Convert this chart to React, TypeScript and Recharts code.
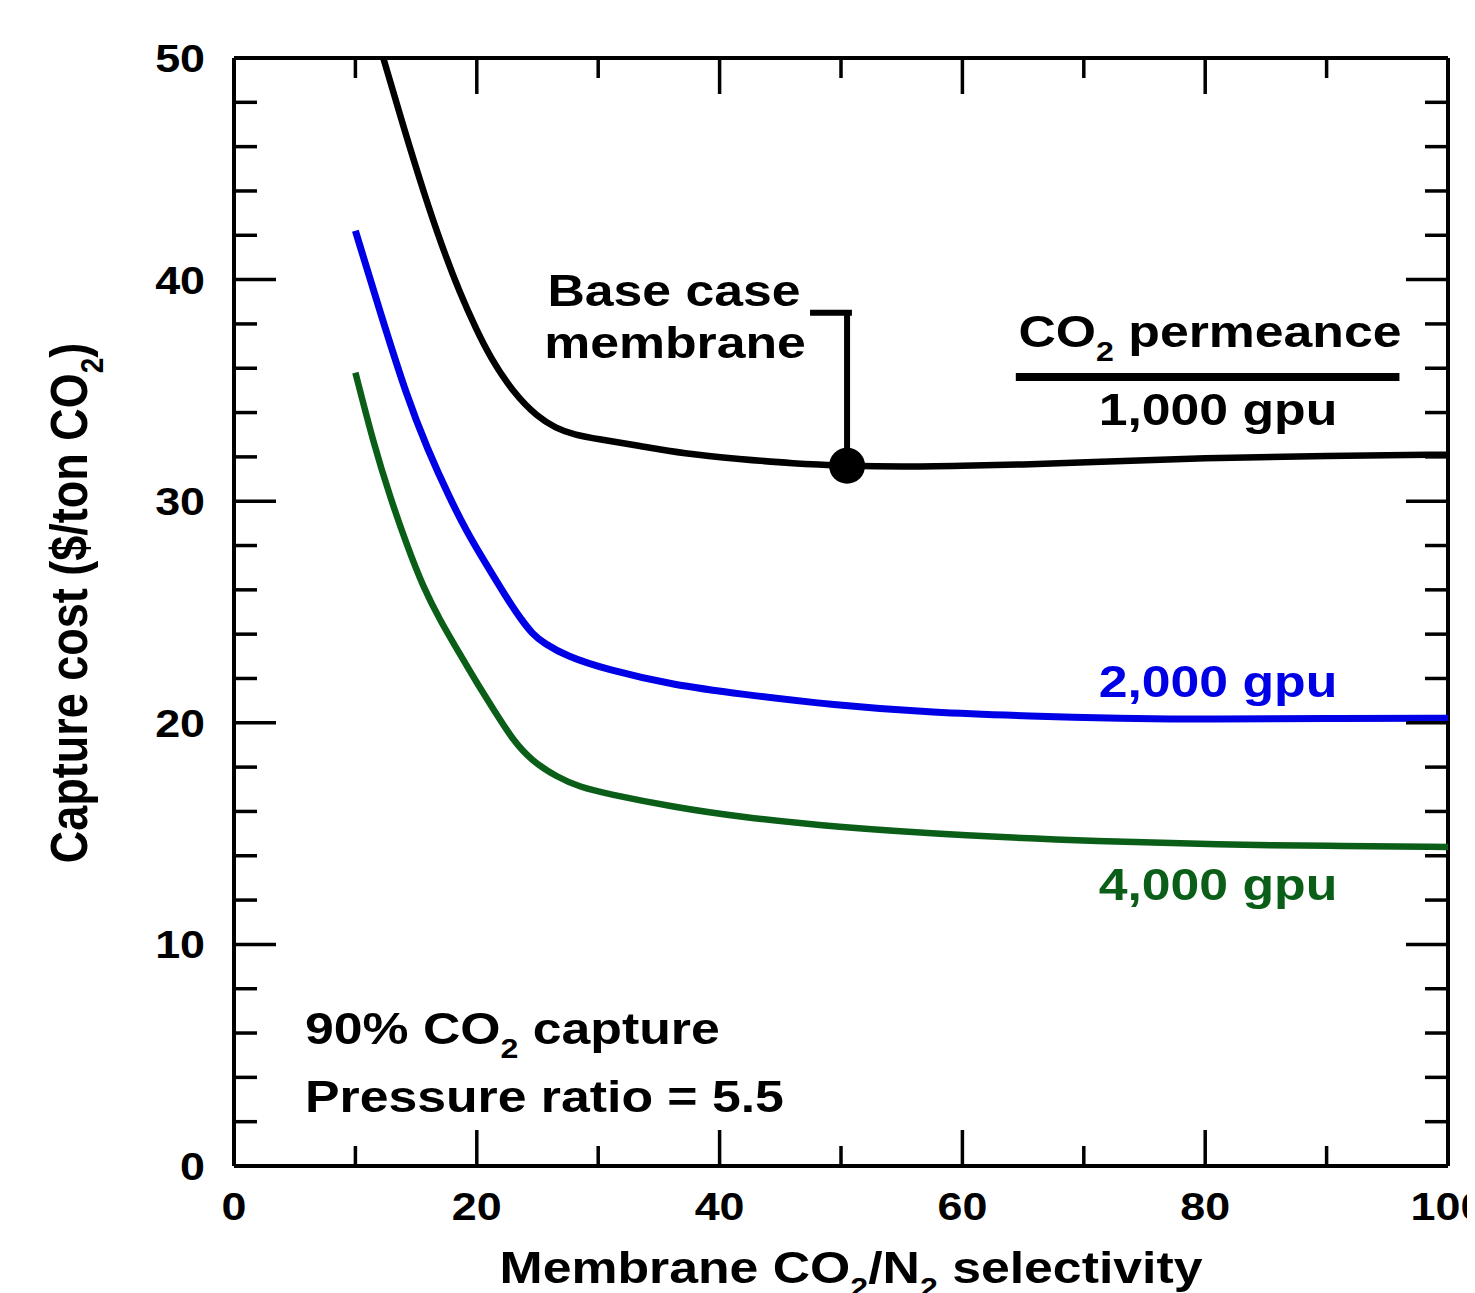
import React from 'react';
import { LineChart, Line, XAxis, YAxis, ReferenceDot, ReferenceLine } from 'recharts';

// ---- data ----
const sel1000 = [12.3, 13.9, 15.7, 17.2, 18.6, 20.0, 21.1, 23, 25, 26.5, 28, 30, 33.4, 37, 41.7, 46, 50.5, 55, 60, 65, 70, 80, 90, 100];
const cost1000 = [50, 47.0, 43.8, 41.4, 39.4, 37.7, 36.5, 34.9, 33.8, 33.3, 33.0, 32.8, 32.5, 32.15, 31.9, 31.7, 31.6, 31.55, 31.6, 31.65, 31.75, 31.95, 32.05, 32.1];

const sel2000 = [10, 12, 14.25, 15.9, 17.8, 19.2, 20.5, 22.5, 23.6, 24.6, 25.5, 27.4, 30.7, 36.2, 41.7, 49.3, 57.6, 65.8, 72.7, 81, 90, 100];
const cost2000 = [42.2, 38.6, 34.7, 32.4, 30.1, 28.6, 27.4, 25.6, 24.7, 24.0, 23.6, 23.0, 22.4, 21.7, 21.3, 20.8, 20.45, 20.3, 20.2, 20.15, 20.2, 20.2];

const sel4000 = [10, 11.5, 12.85, 14.25, 15.6, 17.0, 18.5, 20, 21.5, 23.0, 24.5, 26.6, 28.5, 30.7, 36.2, 41.7, 49.3, 60.4, 71.3, 81.2, 90, 100];
const cost4000 = [35.8, 32.6, 30.2, 28.0, 26.1, 24.6, 23.2, 21.8, 20.5, 19.2, 18.3, 17.55, 17.1, 16.8, 16.2, 15.75, 15.3, 14.9, 14.65, 14.5, 14.45, 14.4];

const xTicks = [0, 10, 20, 30, 40, 50, 60, 70, 80, 90, 100];
const yTicks = [0, 2, 4, 6, 8, 10, 12, 14, 16, 18, 20, 22, 24, 26, 28, 30, 32, 34, 36, 38, 40, 42, 44, 46, 48, 50];
const xDomain = [0, 100];
const yDomain = [0, 50];

const baseCase = { x: 50.5, y: 31.6 };
const bracketTopY = 38.5;
const bracketLeftX = 47.45;
const bracketRightX = 50.9;
const underline = { x1: 64.4, x2: 96.0, y: 35.6 };

const toData = (xs: number[], ys: number[]) => xs.map((x, i) => ({ x, y: ys[i] }));
const data1000 = toData(sel1000, cost1000);
const data2000 = toData(sel2000, cost2000);
const data4000 = toData(sel4000, cost4000);

// ---- layout ----
const W = 1467;
const H = 1285;
const MARGIN = { top: 50, right: 27, bottom: 27, left: 106 };
const YAXIS_W = 120;
const XAXIS_H = 100;
const PLOT_TOP = MARGIN.top;
const PLOT_RIGHT = W - MARGIN.right;

// ---- styling ----
const FONT = '"Liberation Sans", Arial, Helvetica, sans-serif';
const SX = 1.15;
const BLACK = '#000000';
const BLUE = '#0000e6';
const GREEN = '#0b5e18';

type Part = [string, boolean];

const RichText = ({ x, y, size, fill = BLACK, anchor = 'start', parts, rotate = false }: any) => {
  const shift = size * 0.3;
  const kids: any[] = [];
  let prevSub = false;
  (parts as Part[]).forEach(([t, sub], i) => {
    let dy = 0;
    if (sub && !prevSub) dy = shift;
    if (!sub && prevSub) dy = -shift;
    kids.push(
      <tspan key={i} dy={dy} fontSize={sub ? size * 0.62 : size}>
        {t}
      </tspan>
    );
    prevSub = sub;
  });
  const tf = `translate(${x},${y}) scale(${SX},1)` + (rotate ? ' rotate(-90)' : '');
  return (
    <text transform={tf} x={0} y={0} textAnchor={anchor} fontFamily={FONT} fontWeight="bold" fontSize={size} fill={fill}>
      {kids}
    </text>
  );
};

// bottom axis tick: inward tick at bottom + mirrored inward tick at top
const BottomTick = (props: any) => {
  const { x, y, payload } = props;
  const v = payload.value;
  const major = v % 20 === 0;
  const len = major ? 36 : 20;
  return (
    <g>
      <line x1={x} x2={x} y1={y} y2={y - len} stroke={BLACK} strokeWidth={3.5} />
      <line x1={x} x2={x} y1={PLOT_TOP} y2={PLOT_TOP + len} stroke={BLACK} strokeWidth={3.5} />
      {major && <RichText x={x} y={y + 54} size={39} anchor="middle" parts={[[String(v), false]]} />}
    </g>
  );
};

// left axis tick: inward tick at left + mirrored inward tick at right
const LeftTick = (props: any) => {
  const { x, y, payload } = props;
  const v = payload.value;
  const major = v % 10 === 0;
  const len = major ? 42 : 23;
  return (
    <g>
      <line x1={x} x2={x + len} y1={y} y2={y} stroke={BLACK} strokeWidth={3.5} />
      <line x1={PLOT_RIGHT} x2={PLOT_RIGHT - len} y1={y} y2={y} stroke={BLACK} strokeWidth={3.5} />
      {major && <RichText x={x - 29} y={y + 14} size={39} anchor="end" parts={[[String(v), false]]} />}
    </g>
  );
};

const axisLine = { stroke: BLACK, strokeWidth: 4 };

export default function App() {
  return (
    <div style={{ width: W, height: H, background: '#fff' }}>
      <LineChart width={W} height={H} margin={MARGIN}>
        <XAxis
          type="number"
          dataKey="x"
          domain={xDomain}
          ticks={xTicks}
          interval={0}
          tickSize={0}
          tickMargin={0}
          height={XAXIS_H}
          axisLine={axisLine}
          tick={BottomTick}
          allowDataOverflow
        />
        <YAxis
          type="number"
          domain={yDomain}
          ticks={yTicks}
          interval={0}
          tickSize={0}
          tickMargin={0}
          width={YAXIS_W}
          axisLine={axisLine}
          tick={LeftTick}
          allowDataOverflow
        />
        {/* frame: top and right edges */}
        <ReferenceLine segment={[{ x: xDomain[0], y: yDomain[1] }, { x: xDomain[1], y: yDomain[1] }]} stroke={BLACK} strokeWidth={4} />
        <ReferenceLine segment={[{ x: xDomain[1], y: yDomain[0] }, { x: xDomain[1], y: yDomain[1] }]} stroke={BLACK} strokeWidth={4} />

        <Line data={data1000} dataKey="y" type="basis" stroke={BLACK} strokeWidth={6.5} dot={false} isAnimationActive={false} />
        <Line data={data2000} dataKey="y" type="basis" stroke={BLUE} strokeWidth={7} dot={false} isAnimationActive={false} />
        <Line data={data4000} dataKey="y" type="basis" stroke={GREEN} strokeWidth={6.5} dot={false} isAnimationActive={false} />

        <ReferenceLine segment={[{ x: baseCase.x, y: baseCase.y }, { x: baseCase.x, y: bracketTopY }]} stroke={BLACK} strokeWidth={6} />
        <ReferenceLine segment={[{ x: bracketLeftX, y: bracketTopY }, { x: bracketRightX, y: bracketTopY }]} stroke={BLACK} strokeWidth={6} />
        <ReferenceLine segment={[{ x: underline.x1, y: underline.y }, { x: underline.x2, y: underline.y }]} stroke={BLACK} strokeWidth={8} />
        <ReferenceDot x={baseCase.x} y={baseCase.y} r={18} fill={BLACK} stroke="none" />

        <RichText x={666} y={298} size={45} anchor="middle" parts={[['Base case', false]]} />
        <RichText x={667} y={350} size={45} anchor="middle" parts={[['membrane', false]]} />
        <RichText x={1202} y={339} size={45} anchor="middle" parts={[['CO', false], ['2', true], [' permeance', false]]} />
        <RichText x={1210} y={417} size={45} anchor="middle" parts={[['1,000 gpu', false]]} />
        <RichText x={1210} y={689} size={45} anchor="middle" fill={BLUE} parts={[['2,000 gpu', false]]} />
        <RichText x={1210} y={892} size={45} anchor="middle" fill={GREEN} parts={[['4,000 gpu', false]]} />
        <RichText x={297} y={1036} size={45} parts={[['90% CO', false], ['2', true], [' capture', false]]} />
        <RichText x={297} y={1104} size={45} parts={[['Pressure ratio = 5.5', false]]} />
        <RichText x={843} y={1275} size={45} anchor="middle" parts={[['Membrane CO', false], ['2', true], ['/N', false], ['2', true], [' selectivity', false]]} />
        <RichText x={79} y={595} size={45} anchor="middle" rotate parts={[['Capture cost ($/ton CO', false], ['2', true], [')', false]]} />
      </LineChart>
    </div>
  );
}
